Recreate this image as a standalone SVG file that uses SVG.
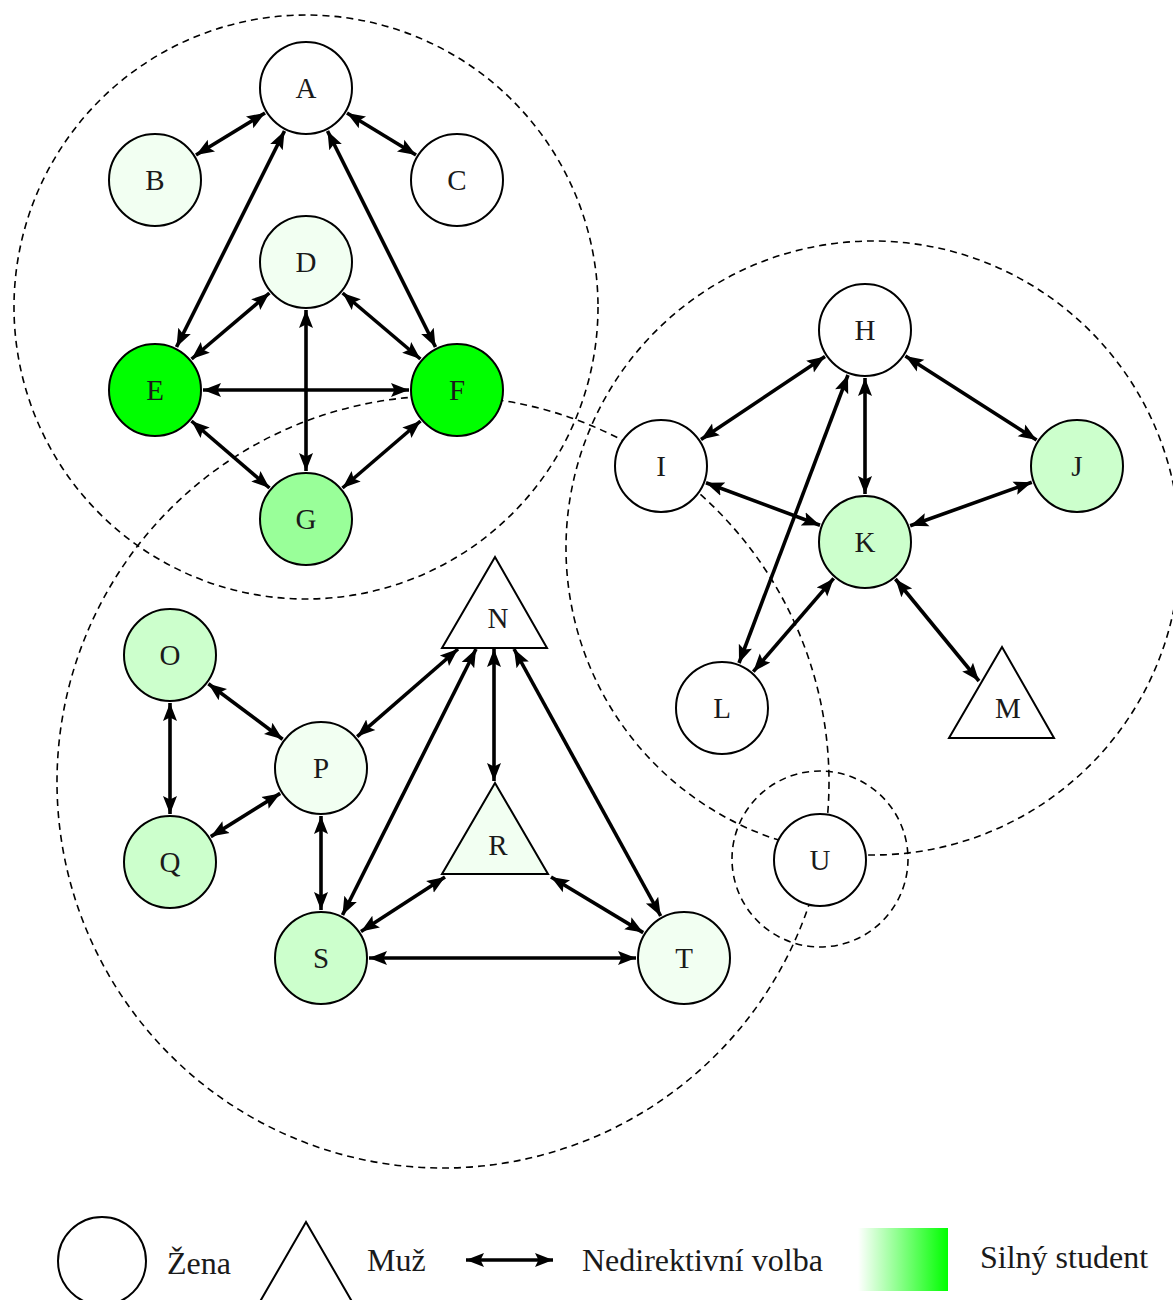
<svg xmlns="http://www.w3.org/2000/svg" width="1173" height="1300" viewBox="0 0 1173 1300">
<style>
.grp{fill:none;stroke:#000;stroke-width:1.6;stroke-dasharray:7 5}
.nd{stroke:#000;stroke-width:2}
.lb{font-size:29px;text-anchor:middle;fill:#1a1a1a}
.lg{font-size:32px;fill:#1a1a1a}
.e{stroke:#000;stroke-width:3.6;fill:none;marker-start:url(#ah);marker-end:url(#ah)}
.w{fill:#fff}.g5{fill:#f2fff2}.g20{fill:#ccffcc}.g40{fill:#99ff99}.g100{fill:#00ff00}
</style>
<defs>
<marker id="ah" markerUnits="userSpaceOnUse" markerWidth="22" markerHeight="18" refX="18" refY="9" orient="auto-start-reverse">
<path d="M0,2 L18,9 L0,16 L3.5,9 z" fill="#000"/>
</marker>
<linearGradient id="grad" x1="0" y1="0" x2="1" y2="0">
<stop offset="0" stop-color="#fff"/>
<stop offset="1" stop-color="#00ff00"/>
</linearGradient>
</defs>
<rect width="1173" height="1300" fill="#fff"/>
<g id="groups">
<circle class="grp" cx="306" cy="307" r="292"/>
<circle class="grp" cx="873" cy="548" r="307"/>
<circle class="grp" cx="443" cy="782" r="386"/>
<circle class="grp" cx="820" cy="859" r="88"/>
</g>
<g id="connectors">
<line class="e" x1="265" y1="113" x2="196" y2="155"/>
<line class="e" x1="347" y1="113" x2="416" y2="155"/>
<line class="e" x1="284.5" y1="131" x2="176.5" y2="347"/>
<line class="e" x1="327.5" y1="131" x2="435.5" y2="347"/>
<line class="e" x1="269.4" y1="293" x2="191.6" y2="359"/>
<line class="e" x1="342.6" y1="293" x2="420.4" y2="359"/>
<line class="e" x1="306" y1="310" x2="306" y2="471"/>
<line class="e" x1="203" y1="390" x2="409" y2="390"/>
<line class="e" x1="191.5" y1="421" x2="269.5" y2="488"/>
<line class="e" x1="420.5" y1="421" x2="342.5" y2="488"/>
<line class="e" x1="825" y1="356.6" x2="701" y2="439.4"/>
<line class="e" x1="905.4" y1="356" x2="1036.6" y2="440"/>
<line class="e" x1="865" y1="378" x2="865" y2="494"/>
<line class="e" x1="848" y1="375" x2="739" y2="663"/>
<line class="e" x1="706" y1="482.8" x2="820" y2="525.2"/>
<line class="e" x1="1031.8" y1="482.2" x2="910.2" y2="525.8"/>
<line class="e" x1="833.7" y1="578.4" x2="753.3" y2="671.6"/>
<line class="e" x1="895.4" y1="579" x2="979" y2="681"/>
<line class="e" x1="208.4" y1="683.8" x2="282.6" y2="739.2"/>
<line class="e" x1="170" y1="703" x2="170" y2="814"/>
<line class="e" x1="280.2" y1="793.4" x2="210.8" y2="836.6"/>
<line class="e" x1="357.2" y1="736.6" x2="458" y2="649"/>
<line class="e" x1="321" y1="816" x2="321" y2="910"/>
<line class="e" x1="476" y1="649" x2="342.5" y2="915"/>
<line class="e" x1="494" y1="649" x2="494" y2="781"/>
<line class="e" x1="514" y1="649" x2="660.7" y2="916"/>
<line class="e" x1="445" y1="877" x2="361" y2="931.5"/>
<line class="e" x1="551" y1="877" x2="643.2" y2="932.6"/>
<line class="e" x1="369" y1="958" x2="636" y2="958"/>
</g>
<g font-family="'Liberation Serif', 'Times New Roman', 'DejaVu Serif', serif">
<g id="A"><circle class="nd w" cx="306" cy="88" r="46"/><text class="lb" x="306" y="98">A</text></g>
<g id="B"><circle class="nd g5" cx="155" cy="180" r="46"/><text class="lb" x="155" y="190">B</text></g>
<g id="C"><circle class="nd w" cx="457" cy="180" r="46"/><text class="lb" x="457" y="190">C</text></g>
<g id="D"><circle class="nd g5" cx="306" cy="262" r="46"/><text class="lb" x="306" y="272">D</text></g>
<g id="E"><circle class="nd g100" cx="155" cy="390" r="46"/><text class="lb" x="155" y="400">E</text></g>
<g id="F"><circle class="nd g100" cx="457" cy="390" r="46"/><text class="lb" x="457" y="400">F</text></g>
<g id="G"><circle class="nd g40" cx="306" cy="519" r="46"/><text class="lb" x="306" y="529">G</text></g>
<g id="H"><circle class="nd w" cx="865" cy="330" r="46"/><text class="lb" x="865" y="340">H</text></g>
<g id="I"><circle class="nd w" cx="661" cy="466" r="46"/><text class="lb" x="661" y="476">I</text></g>
<g id="J"><circle class="nd g20" cx="1077" cy="466" r="46"/><text class="lb" x="1077" y="476">J</text></g>
<g id="K"><circle class="nd g20" cx="865" cy="542" r="46"/><text class="lb" x="865" y="552">K</text></g>
<g id="L"><circle class="nd w" cx="722" cy="708" r="46"/><text class="lb" x="722" y="718">L</text></g>
<g id="M"><polygon class="nd w" points="1002,647 1054,738 949,738"/><text class="lb" x="1008" y="718">M</text></g>
<g id="N"><polygon class="nd w" points="495,557 547,648 442,648"/><text class="lb" x="498" y="628">N</text></g>
<g id="O"><circle class="nd g20" cx="170" cy="655" r="46"/><text class="lb" x="170" y="665">O</text></g>
<g id="P"><circle class="nd g5" cx="321" cy="768" r="46"/><text class="lb" x="321" y="778">P</text></g>
<g id="Q"><circle class="nd g20" cx="170" cy="862" r="46"/><text class="lb" x="170" y="872">Q</text></g>
<g id="R"><polygon class="nd g5" points="495,783 548,874 442,874"/><text class="lb" x="498" y="855">R</text></g>
<g id="S"><circle class="nd g20" cx="321" cy="958" r="46"/><text class="lb" x="321" y="968">S</text></g>
<g id="T"><circle class="nd g5" cx="684" cy="958" r="46"/><text class="lb" x="684" y="968">T</text></g>
<g id="U"><circle class="nd w" cx="820" cy="860" r="46"/><text class="lb" x="820" y="870">U</text></g>
<g id="legend">
<circle class="nd w" cx="102" cy="1261" r="44"/>
<text class="lg" x="167" y="1274">Žena</text>
<polygon class="nd w" points="306,1222 217,1376 395,1376"/>
<text class="lg" x="367" y="1271">Muž</text>
<line class="e" x1="466" y1="1260" x2="553" y2="1260"/>
<text class="lg" x="582" y="1271">Nedirektivní volba</text>
<rect x="858" y="1228" width="90" height="63" fill="url(#grad)"/>
<text class="lg" x="980" y="1268">Silný student</text>
</g>
</g>
</svg>
